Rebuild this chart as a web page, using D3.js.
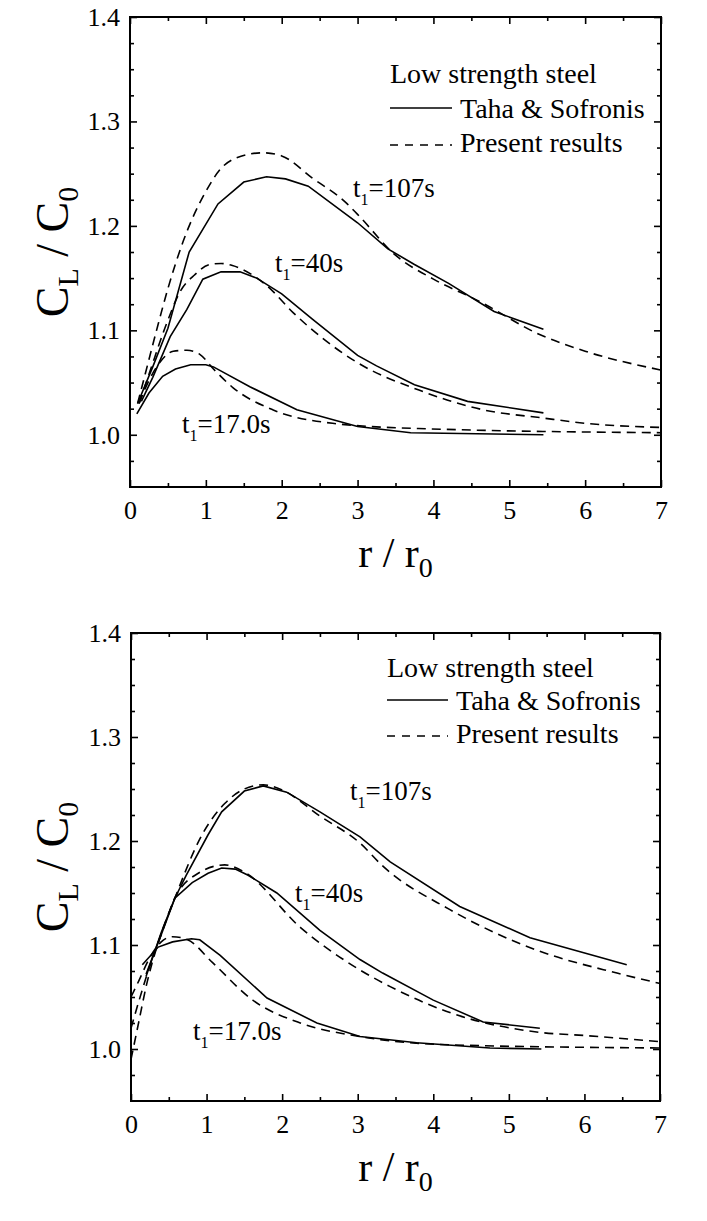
<!DOCTYPE html>
<html><head><meta charset="utf-8">
<script src="https://cdn.jsdelivr.net/npm/d3@7/dist/d3.min.js"></script>
<style>
html,body{margin:0;padding:0;background:#fff;}
svg{display:block;}
svg text{font-family:"Liberation Serif","Times New Roman",Times,serif !important;fill:#000;}
</style></head>
<body>
<svg id="chart" width="707" height="1221"></svg>
<script>
// ---------- data (r/r0, CL/C0) ----------
const xTicks = [0,1,2,3,4,5,6,7];
const yTicks = [1.0,1.1,1.2,1.3,1.4];
const legendTitle = "Low strength steel";
const seriesNames = ["Taha & Sofronis","Present results"];
const curveLabels = ["107s","40s","17.0s"];

// top panel
const topSolid107 = [[0.1,1.030],[0.3,1.065],[0.5,1.102],[0.78,1.175],[1.16,1.221],[1.5,1.242],[1.8,1.247],[2.05,1.245],[2.35,1.238],[3.0,1.203],[3.4,1.178],[3.75,1.163],[4.2,1.145],[4.8,1.118],[5.45,1.101]];
const topDash107  = [[0.1,1.030],[0.2,1.058],[0.35,1.100],[0.5,1.140],[0.7,1.185],[1.0,1.233],[1.2,1.255],[1.4,1.265],[1.75,1.270],[2.0,1.267],[2.4,1.246],[2.85,1.222],[3.0,1.211],[3.5,1.172],[4.0,1.149],[4.6,1.128],[5.4,1.096],[6.0,1.080],[7.0,1.062]];
const topSolid40  = [[0.15,1.032],[0.3,1.055],[0.53,1.094],[0.75,1.120],[0.96,1.149],[1.2,1.156],[1.45,1.156],[1.67,1.150],[2.0,1.135],[2.4,1.111],[3.0,1.076],[3.25,1.066],[3.75,1.048],[4.45,1.032],[5.45,1.021]];
const topDash40   = [[0.12,1.030],[0.26,1.060],[0.49,1.108],[0.66,1.137],[0.85,1.153],[1.05,1.163],[1.2,1.164],[1.35,1.162],[1.8,1.143],[2.15,1.117],[3.0,1.069],[3.8,1.043],[4.65,1.024],[5.45,1.016],[6.0,1.011],[7.0,1.007]];
const topSolid17  = [[0.09,1.020],[0.25,1.040],[0.43,1.056],[0.6,1.063],[0.8,1.067],[1.0,1.067],[1.1,1.065],[1.58,1.046],[2.2,1.024],[3.0,1.008],[3.7,1.002],[5.45,1.000]];
const topDash17   = [[0.12,1.030],[0.25,1.052],[0.4,1.070],[0.57,1.080],[0.75,1.081],[0.92,1.077],[1.1,1.063],[1.36,1.045],[1.88,1.024],[2.67,1.011],[3.8,1.006],[7.0,1.002]];

// bottom panel
const botSolid107 = [[0.2,1.072],[0.4,1.110],[0.58,1.145],[0.73,1.167],[1.02,1.206],[1.2,1.228],[1.5,1.248],[1.75,1.253],[2.06,1.247],[2.5,1.228],[3.03,1.204],[3.43,1.180],[4.35,1.137],[5.28,1.107],[6.56,1.081]];
const botDash107  = [[0.0,0.990],[0.1,1.025],[0.2,1.060],[0.35,1.100],[0.58,1.145],[0.94,1.206],[1.24,1.236],[1.5,1.250],[1.75,1.254],[2.0,1.249],[2.5,1.224],[3.03,1.198],[3.33,1.176],[4.22,1.134],[5.37,1.095],[6.43,1.073],[7.0,1.063]];
const botSolid40  = [[0.2,1.070],[0.4,1.112],[0.58,1.145],[0.81,1.160],[1.02,1.169],[1.2,1.174],[1.38,1.173],[1.55,1.167],[1.93,1.150],[2.5,1.114],[3.03,1.086],[3.33,1.073],[4.0,1.047],[4.66,1.026],[5.41,1.020]];
const botDash40   = [[0.0,1.020],[0.1,1.045],[0.25,1.080],[0.4,1.110],[0.58,1.145],[0.89,1.169],[1.24,1.177],[1.5,1.170],[2.24,1.117],[3.03,1.076],[3.43,1.060],[4.22,1.035],[5.41,1.016],[6.0,1.013],[7.0,1.007]];
const botSolid17  = [[0.15,1.081],[0.36,1.098],[0.55,1.103],[0.8,1.106],[0.91,1.105],[1.18,1.090],[1.8,1.049],[2.46,1.025],[3.03,1.012],[3.78,1.006],[4.75,1.001],[5.43,1.000]];
const botDash17   = [[0.0,1.050],[0.1,1.065],[0.25,1.088],[0.4,1.103],[0.55,1.108],[0.75,1.105],[1.08,1.083],[1.61,1.047],[2.24,1.025],[3.03,1.012],[4.22,1.004],[7.0,1.001]];

// ---------- drawing ----------
const FONT = "Liberation Serif, Times New Roman, serif";
const svg = d3.select("#chart");
const DASH = "9,6";

function drawPanel(p){
  const x = d3.scaleLinear().domain([0,7]).range([p.x0,p.x1]);
  const y = d3.scaleLinear().domain([0.95,1.4]).range([p.y1,p.y0]);
  const g = svg.append("g").attr("font-family",FONT);
  const minorX = d3.range(0.5,7,1);
  const minorY = d3.range(0.975,1.4,0.025).filter(v=>Math.abs(v*10-Math.round(v*10))>0.01);

  function axisStyle(sel){ sel.attr("font-family",FONT); sel.select(".domain").remove(); sel.selectAll("line").attr("stroke","#000").attr("stroke-width",1.6); }

  // bottom
  g.append("g").attr("transform",`translate(0,${p.y1})`)
    .call(d3.axisBottom(x).tickValues(xTicks).tickSize(-7).tickPadding(14).tickFormat(d3.format("d")))
    .call(axisStyle)
    .call(s=>s.selectAll("text").attr("font-size",26).attr("font-family",FONT).attr("dy","0.71em"));
  g.append("g").attr("transform",`translate(0,${p.y1})`)
    .call(d3.axisBottom(x).tickValues(minorX).tickSize(-4).tickFormat(""))
    .call(axisStyle);
  // top
  g.append("g").attr("transform",`translate(0,${p.y0})`)
    .call(d3.axisTop(x).tickValues(xTicks).tickSize(-7).tickFormat(""))
    .call(axisStyle);
  g.append("g").attr("transform",`translate(0,${p.y0})`)
    .call(d3.axisTop(x).tickValues(minorX).tickSize(-4).tickFormat(""))
    .call(axisStyle);
  // left
  g.append("g").attr("transform",`translate(${p.x0},0)`)
    .call(d3.axisLeft(y).tickValues(yTicks).tickSize(-7).tickPadding(10).tickFormat(d3.format(".1f")))
    .call(axisStyle)
    .call(s=>s.selectAll("text").attr("font-size",26).attr("font-family",FONT));
  g.append("g").attr("transform",`translate(${p.x0},0)`)
    .call(d3.axisLeft(y).tickValues(minorY).tickSize(-4).tickFormat(""))
    .call(axisStyle);
  // right
  g.append("g").attr("transform",`translate(${p.x1},0)`)
    .call(d3.axisRight(y).tickValues(yTicks).tickSize(-7).tickFormat(""))
    .call(axisStyle);
  g.append("g").attr("transform",`translate(${p.x1},0)`)
    .call(d3.axisRight(y).tickValues(minorY).tickSize(-4).tickFormat(""))
    .call(axisStyle);

  // frame
  g.append("rect").attr("x",p.x0).attr("y",p.y0).attr("width",p.x1-p.x0).attr("height",p.y1-p.y0)
    .attr("fill","none").attr("stroke","#000").attr("stroke-width",2);

  // curves
  const line = d3.line().x(d=>x(d[0])).y(d=>y(d[1]));
  const smooth = d3.line().x(d=>x(d[0])).y(d=>y(d[1])).curve(d3.curveMonotoneX);
  p.solid.forEach(s=>{
    g.append("path").attr("d",line(s)).attr("fill","none").attr("stroke","#000").attr("stroke-width",1.6);
  });
  p.dash.forEach(s=>{
    g.append("path").attr("d",smooth(s)).attr("fill","none").attr("stroke","#000").attr("stroke-width",1.6).attr("stroke-dasharray",DASH);
  });

  // legend
  const L = p.legend;
  g.append("text").attr("x",L.x).attr("y",L.y).attr("font-size",28).text(legendTitle);
  g.append("line").attr("x1",L.x).attr("x2",L.x+L.w).attr("y1",L.y+L.dy1-10).attr("y2",L.y+L.dy1-10).attr("stroke","#000").attr("stroke-width",1.6);
  g.append("text").attr("x",L.x+L.w+8).attr("y",L.y+L.dy1).attr("font-size",28).text(seriesNames[0]);
  g.append("line").attr("x1",L.x).attr("x2",L.x+L.w).attr("y1",L.y+L.dy2-7).attr("y2",L.y+L.dy2-7).attr("stroke","#000").attr("stroke-width",1.6).attr("stroke-dasharray","8,7");
  g.append("text").attr("x",L.x+L.w+8).attr("y",L.y+L.dy2).attr("font-size",28).text(seriesNames[1]);

  // curve labels
  p.labels.forEach((lb,i)=>{
    const t = g.append("text").attr("x",lb[0]).attr("y",lb[1]).attr("font-size",27);
    t.append("tspan").text("t");
    t.append("tspan").attr("font-size",16).attr("dy",8).text("1");
    t.append("tspan").attr("dy",-8).text("=" + curveLabels[i]);
  });

  // axis titles
  const xt = g.append("text").attr("x",(p.x0+p.x1)/2).attr("y",p.y1+80).attr("text-anchor","middle").attr("font-size",42);
  xt.append("tspan").text("r / r");
  xt.append("tspan").attr("font-size",28).attr("dy",10).text("0");

  const yt = g.append("text").attr("transform",`translate(${p.ytx},${(p.y0+p.y1)/2}) rotate(-90)`).attr("text-anchor","middle").attr("font-size",46);
  yt.append("tspan").text("C");
  yt.append("tspan").attr("font-size",30).attr("dy",10).text("L");
  yt.append("tspan").attr("dy",-10).text(" / C");
  yt.append("tspan").attr("font-size",30).attr("dy",10).text("0");
}

drawPanel({x0:130,x1:661,y0:17,y1:487,ytx:68,
  solid:[topSolid107,topSolid40,topSolid17], dash:[topDash107,topDash40,topDash17],
  legend:{x:390,y:83,w:62,dy1:35,dy2:69},
  labels:[[353,197],[275,272],[182,433]]});

drawPanel({x0:131,x1:660,y0:633,y1:1101,ytx:68,
  solid:[botSolid107,botSolid40,botSolid17], dash:[botDash107,botDash40,botDash17],
  legend:{x:387,y:677,w:61,dy1:33,dy2:66},
  labels:[[350,800],[295,902],[193,1040]]});
</script>
</body></html>
